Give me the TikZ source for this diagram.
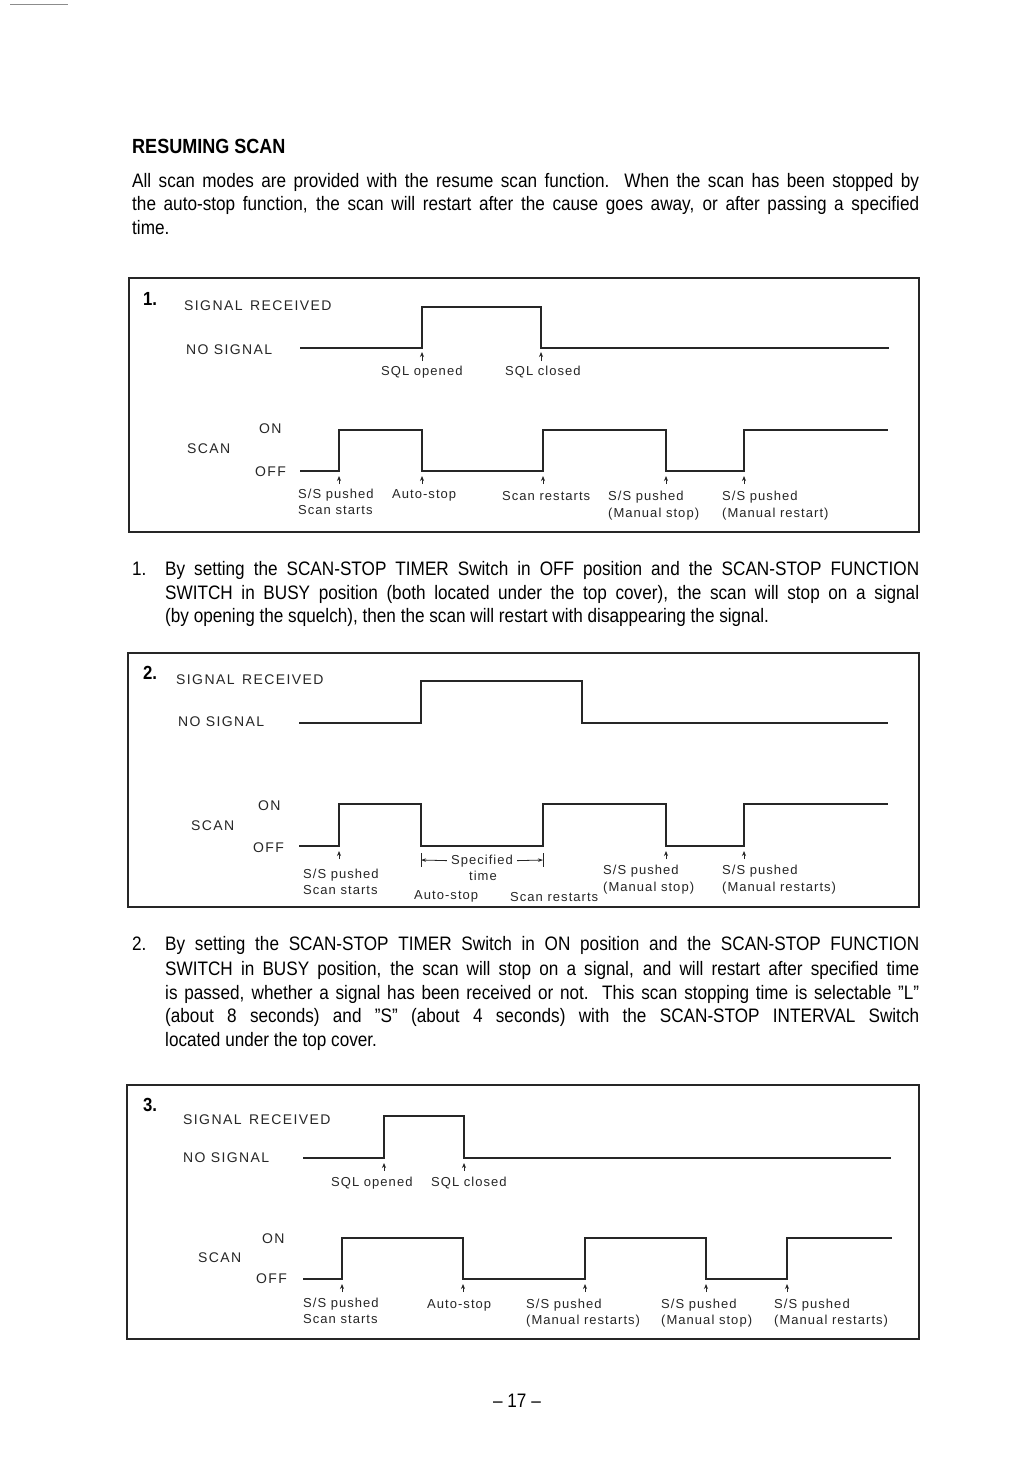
\documentclass[tikz,border=0pt]{standalone}
\usepackage{fontspec}
\setmainfont{Liberation Sans}
\newfontfamily\bodyfont{Liberation Sans}[FakeStretch=0.88]
\newfontfamily\labfont{Liberation Sans}[LetterSpace=8]
\newfontfamily\bigfont{Liberation Sans}[LetterSpace=10]
\usetikzlibrary{arrows.meta}
\begin{document}
\begin{tikzpicture}[x=1pt,y=-1pt,
 frame/.style={line width=1.3pt, draw=black!85},
 wave/.style={line width=1.5pt, draw=black!85, line join=miter},
 uparrow/.style={line width=0.9pt, draw=black!85, -{Stealth[length=5pt,width=4pt]}},
 dimtick/.style={line width=1pt, draw=black!85},
 dimarrow/.style={line width=0.8pt, draw=black!85, -{Stealth[length=5pt,width=3.5pt]}},
 lab/.style={inner sep=0pt, font=\labfont\fontsize{13}{15}\selectfont, anchor=base west, text=black!85},
 biglab/.style={inner sep=0pt, font=\bigfont\fontsize{14}{16}\selectfont, anchor=base west, text=black!85},
 body/.style={inner sep=0pt, font=\bodyfont\fontsize{19.5}{22}\selectfont, anchor=base west},
 num/.style={inner sep=0pt, font=\bodyfont\bfseries\fontsize{19}{20}\selectfont, anchor=base west}]
\useasboundingbox[fill=white] (0,0) rectangle (1032,1458);
\draw[black!45, line width=0.6pt] (10,4) -- (68,4);

% ---------- heading and intro ----------
\node[body, font=\bodyfont\bfseries\fontsize{20.5}{23}\selectfont] (head) at (132,154) {RESUMING SCAN};
\node[body] (p0a) at (132,187) {\makebox[787pt][s]{All scan modes are provided with the resume scan function.\ \ When the scan has been stopped by}};
\node[body] (p0b) at (132,211) {\makebox[787pt][s]{the auto-stop function, the scan will restart after the cause goes away, or after passing a specified}};
\node[body] (p0c) at (132,234) {time.};

% ---------- box 1 ----------
\draw[frame] (129,278) rectangle (919,532);
\node[num] (n1) at (143,305) {1.};
\node[biglab] (sr1) at (184,310) {SIGNAL\ \,RECEIVED};
\node[biglab] (ns1) at (186,354) {NO SIGNAL};
\draw[wave] (300,348) -| (422,307) -| (541,348) -- (889,348);
\draw[uparrow] (422,361) -- (422,352);
\draw[uparrow] (541,361) -- (541,352);
\node[lab] (sqlo1) at (381,375) {SQL opened};
\node[lab] (sqlc1) at (505,375) {SQL closed};
\node[biglab] (on1) at (259,433) {ON};
\node[biglab] (sc1) at (187,453) {SCAN};
\node[biglab] (off1) at (255,476) {OFF};
\draw[wave] (300,471) -| (339,430) -| (422,471) -| (543,430) -| (666,471) -| (744,430) -- (888,430);
\foreach \xx in {339,422,543,666,744} \draw[uparrow] (\xx,484) -- (\xx,476);
\node[lab] (a1) at (298,498) {S/S pushed};
\node[lab] (a1b) at (298,514) {Scan starts};
\node[lab] (b1) at (392,498) {Auto-stop};
\node[lab] (c1) at (502,500) {Scan restarts};
\node[lab] (d1) at (608,500) {S/S pushed};
\node[lab] (d1b) at (608,517) {(Manual stop)};
\node[lab] (e1) at (722,500) {S/S pushed};
\node[lab] (e1b) at (722,517) {(Manual restart)};

% ---------- paragraph 1 ----------
\node[body] (q1n) at (132,575) {1.};
\node[body] (q1a) at (165,575) {\makebox[754pt][s]{By setting the SCAN-STOP TIMER Switch in OFF position and the SCAN-STOP FUNCTION}};
\node[body] (q1b) at (165,599) {\makebox[754pt][s]{SWITCH in BUSY position (both located under the top cover), the scan will stop on a signal}};
\node[body] (q1c) at (165,622) {(by opening the squelch), then the scan will restart with disappearing the signal.};

% ---------- box 2 ----------
\draw[frame] (128,653) rectangle (919,907);
\node[num] (n2) at (143,679) {2.};
\node[biglab] (sr2) at (176,684) {SIGNAL\ \,RECEIVED};
\node[biglab] (ns2) at (178,726) {NO SIGNAL};
\draw[wave] (299,723) -| (421,681) -| (582,723) -- (888,723);
\node[biglab] (on2) at (258,810) {ON};
\node[biglab] (sc2) at (191,830) {SCAN};
\node[biglab] (off2) at (253,852) {OFF};
\draw[wave] (299,846) -| (339,804) -| (421,846) -| (543,804) -| (666,846) -| (744,804) -- (888,804);
\foreach \xx in {339,666,744} \draw[uparrow] (\xx,859) -- (\xx,851);
\coordinate (tl) at (421,860);
\coordinate (tr) at (543,860);
\draw[dimtick] (421,853) -- (421,867);
\draw[dimtick] (543,853) -- (543,867);
\node[lab, anchor=base] (spec) at (482,864) {Specified};
\draw[dimarrow] (spec.west) ++(-4,0) -- (tl);
\draw[dimarrow] (spec.east) ++(4,0) -- (tr);
\node[lab, anchor=base] (time) at (483,880) {time};
\node[lab] (a2) at (303,878) {S/S pushed};
\node[lab] (a2b) at (303,894) {Scan starts};
\node[lab] (b2) at (414,899) {Auto-stop};
\node[lab] (c2) at (510,901) {Scan restarts};
\node[lab] (d2) at (603,874) {S/S pushed};
\node[lab] (d2b) at (603,891) {(Manual stop)};
\node[lab] (e2) at (722,874) {S/S pushed};
\node[lab] (e2b) at (722,891) {(Manual restarts)};

% ---------- paragraph 2 ----------
\node[body] (q2n) at (132,950) {2.};
\node[body] (q2a) at (165,950) {\makebox[754pt][s]{By setting the SCAN-STOP TIMER Switch in ON position and the SCAN-STOP FUNCTION}};
\node[body] (q2b) at (165,975) {\makebox[754pt][s]{SWITCH in BUSY position, the scan will stop on a signal, and will restart after specified time}};
\node[body] (q2c) at (165,999) {\makebox[754pt][s]{is passed, whether a signal has been received or not.\ \ This scan stopping time is selectable ”L”}};
\node[body] (q2d) at (165,1022) {\makebox[754pt][s]{(about 8 seconds) and ”S” (about 4 seconds) with the SCAN-STOP INTERVAL Switch}};
\node[body] (q2e) at (165,1046) {located under the top cover.};

% ---------- box 3 ----------
\draw[frame] (127,1085) rectangle (919,1339);
\node[num] (n3) at (143,1111) {3.};
\node[biglab] (sr3) at (183,1124) {SIGNAL\ \,RECEIVED};
\node[biglab] (ns3) at (183,1162) {NO SIGNAL};
\draw[wave] (303,1158) -| (384,1116) -| (464,1158) -- (891,1158);
\draw[uparrow] (384,1171) -- (384,1163);
\draw[uparrow] (464,1171) -- (464,1163);
\node[lab] (sqlo3) at (331,1186) {SQL opened};
\node[lab] (sqlc3) at (431,1186) {SQL closed};
\node[biglab] (on3) at (262,1243) {ON};
\node[biglab] (sc3) at (198,1262) {SCAN};
\node[biglab] (off3) at (256,1283) {OFF};
\draw[wave] (303,1279) -| (342,1238) -| (463,1279) -| (585,1238) -| (706,1279) -| (787,1238) -- (892,1238);
\foreach \xx in {342,463,585,706,787} \draw[uparrow] (\xx,1292) -- (\xx,1284);
\node[lab] (a3) at (303,1307) {S/S pushed};
\node[lab] (a3b) at (303,1323) {Scan starts};
\node[lab] (b3) at (427,1308) {Auto-stop};
\node[lab] (c3) at (526,1308) {S/S pushed};
\node[lab] (c3b) at (526,1324) {(Manual restarts)};
\node[lab] (d3) at (661,1308) {S/S pushed};
\node[lab] (d3b) at (661,1324) {(Manual stop)};
\node[lab] (e3) at (774,1308) {S/S pushed};
\node[lab] (e3b) at (774,1324) {(Manual restarts)};

% ---------- page number ----------
\node[body, anchor=base] (pg) at (517,1407) {– 17 –};
\end{tikzpicture}
\end{document}
